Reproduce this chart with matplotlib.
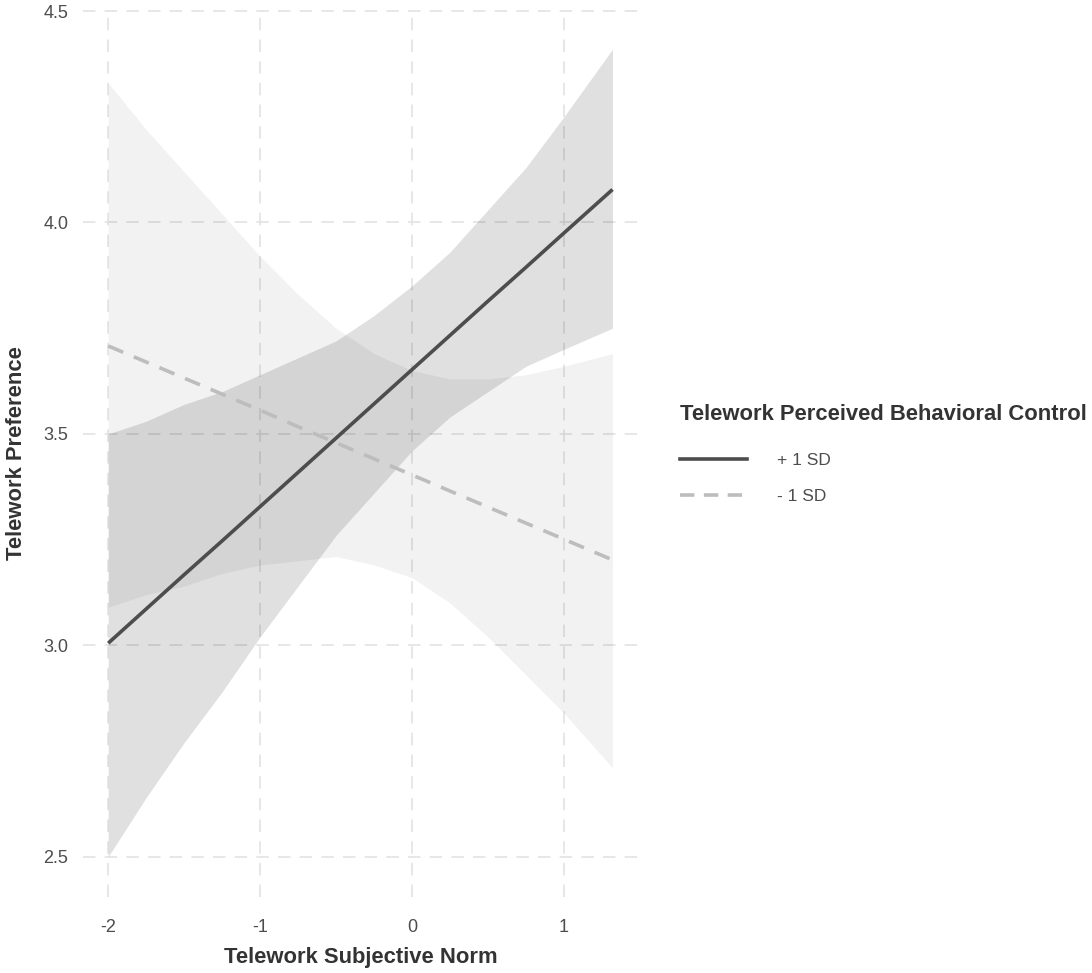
import numpy as np
import matplotlib
matplotlib.use("Agg")
from matplotlib import pyplot as plt
from matplotlib.lines import Line2D

plt.rcParams['font.family'] = ['Liberation Sans', 'DejaVu Sans']

# values
x_vals = [-2, -1.75, -1.5, -1.25, -1, -0.75, -0.5, -0.25, 0, 0.25, 0.5, 0.75, 1, 1.32]

# + 1 SD (solid line, darker band)
hi_line = [3.005, 3.086, 3.167, 3.247, 3.328, 3.409, 3.490, 3.571, 3.652, 3.733, 3.814, 3.894, 3.975, 4.078]
hi_upper = [3.50, 3.53, 3.57, 3.60, 3.64, 3.68, 3.72, 3.78, 3.85, 3.93, 4.03, 4.13, 4.25, 4.41]
hi_lower = [2.50, 2.64, 2.77, 2.89, 3.02, 3.14, 3.26, 3.36, 3.46, 3.54, 3.60, 3.66, 3.70, 3.75]

# - 1 SD (dashed line, lighter band)
lo_line = [3.708, 3.670, 3.632, 3.594, 3.556, 3.517, 3.479, 3.441, 3.403, 3.365, 3.327, 3.289, 3.251, 3.202]
lo_upper = [4.33, 4.22, 4.12, 4.02, 3.92, 3.83, 3.75, 3.69, 3.65, 3.63, 3.63, 3.64, 3.66, 3.69]
lo_lower = [3.09, 3.12, 3.14, 3.17, 3.19, 3.20, 3.21, 3.19, 3.16, 3.10, 3.02, 2.93, 2.84, 2.71]

x_ticks = [-2, -1, 0, 1]
y_ticks = [2.5, 3.0, 3.5, 4.0, 4.5]

fig = plt.figure(figsize=(10.92, 9.73), dpi=100)
ax = fig.add_axes([0.076, 0.078, 0.508, 0.913])

ax.fill_between(x_vals, lo_lower, lo_upper, color="black", alpha=0.05, linewidth=0)
ax.fill_between(x_vals, hi_lower, hi_upper, color="black", alpha=0.12, linewidth=0)

ax.plot(x_vals, hi_line, color="#4d4d4d", lw=2.6, solid_capstyle="butt", zorder=4)
ax.plot(x_vals, lo_line, color="#bdbdbd", lw=2.6, dashes=(4.5, 3.2), zorder=3)

ax.set_xlim(-2.166, 1.486)
ax.set_ylim(2.4045, 4.5055)
ax.set_xticks(x_ticks)
ax.set_xticklabels([str(t) for t in x_ticks])
ax.set_yticks(y_ticks)
ax.set_yticklabels([f"{t:.1f}" for t in y_ticks])

ax.grid(True, color="#e3e3e3", lw=1.2, dashes=(7.5, 5.5))
ax.set_axisbelow(True)
for s in ax.spines.values():
    s.set_visible(False)
ax.tick_params(length=0, labelsize=13, labelcolor="#4d4d4d")
ax.tick_params(axis="x", pad=15.5)
ax.tick_params(axis="y", pad=10.5)

ax.set_xlabel("Telework Subjective Norm", fontsize=15.8, fontweight="bold", color="#333333", labelpad=8)
ax.set_ylabel("Telework Preference", fontsize=15.8, fontweight="bold", color="#333333", labelpad=12)

handles = [
    Line2D([0], [0], color="#4d4d4d", lw=2.6),
    Line2D([0], [0], color="#bdbdbd", lw=2.6, dashes=(4, 2.6)),
]
leg = fig.legend(handles, ["+ 1 SD", "- 1 SD"], title="Telework Perceived Behavioral Control",
                 loc="upper left", bbox_to_anchor=(0.6166, 0.592), frameon=False,
                 fontsize=12.5, title_fontsize=15.8, handlelength=3.85, handletextpad=1.72,
                 labelspacing=1.2, alignment="left", borderaxespad=0)
leg.get_title().set_fontweight("bold")
leg.get_title().set_color("#333333")
leg._legend_box.sep = 20
for t in leg.get_texts():
    t.set_color("#4d4d4d")

fig.savefig("out.png", dpi=100)
